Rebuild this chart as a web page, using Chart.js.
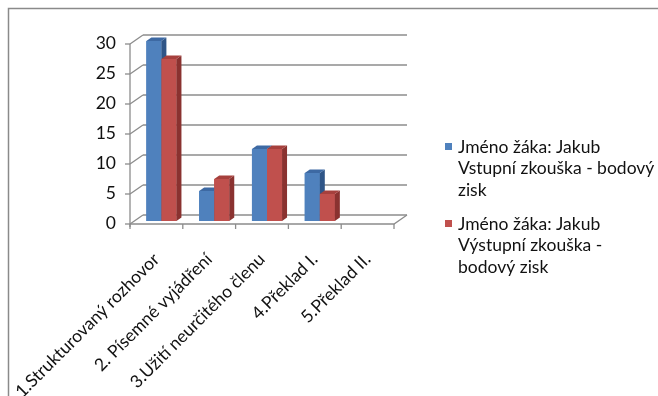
<!DOCTYPE html>
<html>
<head>
<meta charset="utf-8">
<script src="https://cdn.jsdelivr.net/npm/chart.js@4/dist/chart.umd.min.js"></script>
<style>
    html, body { margin: 0; padding: 0; background: #fff; }
    #wrap { width: 658px; height: 396px; position: relative; }
</style>
</head>
<body>
<div id="wrap"><canvas id="chart"></canvas></div>
<script>
// data
const categories = ["1.Strukturovaný rozhovor", "2. Písemné vyjádření", "3.Užití neurčitého členu", "4.Překlad I.", "5.Překlad II."];
const entryScores = [30, 5, 12, 8, 0];
const exitScores = [27, 7, 12, 4.5, 0];
const seriesLabels = [
    ["Jméno žáka: Jakub", "Vstupní zkouška - bodový", "zisk"],
    ["Jméno žáka: Jakub", "Výstupní zkouška -", "bodový zisk"]
];
const yTicks = [0, 5, 10, 15, 20, 25, 30];

const FONT = "Lato";
const FONT_SIZE = 17.5;
const frontColors = ["#4f81bd", "#c0504d"];
const sideColors = ["#2f5587", "#8a3230"];
const topColors = ["#3d69a3", "#a6403d"];
const gridColor = "#8c8c8c";

// offsets of the front plane / back wall from the plane the bars stand in
const FRONT = [-5, 3];
const BACK = [8, -6];
const BAR_DEPTH = [5, -3.5];

function line(ctx, x1, y1, x2, y2) {
    ctx.beginPath();
    ctx.moveTo(x1, y1);
    ctx.lineTo(x2, y2);
    ctx.stroke();
}

const frame3d = {
    id: "frame3d",
    beforeDraw(chart) {
        const ctx = chart.ctx;
        ctx.save();
        ctx.strokeStyle = "#8a8a8a";
        ctx.lineWidth = 1.5;
        ctx.beginPath();
        ctx.moveTo(8.5, 396);
        ctx.lineTo(8.5, 8.5);
        ctx.lineTo(658, 8.5);
        ctx.stroke();
        ctx.restore();
    },
    beforeDatasetsDraw(chart) {
        const ctx = chart.ctx;
        const a = chart.chartArea;
        const y = chart.scales.y;
        const y0 = y.getPixelForValue(0);
        const yMax = y.getPixelForValue(yTicks[yTicks.length - 1]);

        ctx.save();
        ctx.strokeStyle = gridColor;
        ctx.lineWidth = 1.3;

        yTicks.forEach(v => {
            const py = y.getPixelForValue(v);
            line(ctx, a.left + BACK[0], py + BACK[1], a.right + BACK[0], py + BACK[1]);
            line(ctx, a.left + FRONT[0], py + FRONT[1], a.left + BACK[0], py + BACK[1]);
            line(ctx, a.left + FRONT[0] - 5, py + FRONT[1], a.left + FRONT[0], py + FRONT[1]);
        });

        // front left axis
        line(ctx, a.left + FRONT[0], yMax + FRONT[1], a.left + FRONT[0], y0 + FRONT[1] + 3);

        // floor
        ctx.beginPath();
        ctx.moveTo(a.left + FRONT[0], y0 + FRONT[1]);
        ctx.lineTo(a.right + FRONT[0], y0 + FRONT[1]);
        ctx.lineTo(a.right + BACK[0], y0 + BACK[1]);
        ctx.stroke();

        // category ticks
        const step = (a.right - a.left) / categories.length;
        for (let i = 0; i <= categories.length; i++) {
            const px = a.left + i * step + FRONT[0];
            line(ctx, px, y0 + FRONT[1], px, y0 + FRONT[1] + 5);
        }
        ctx.restore();
    },
    afterDatasetsDraw(chart) {
        const ctx = chart.ctx;
        ctx.save();
        chart.data.datasets.forEach((ds, i) => {
            const meta = chart.getDatasetMeta(i);
            meta.data.forEach(bar => {
                if (bar.base - bar.y < 0.5) return;
                bar.draw(ctx);
                const left = bar.x - bar.width / 2;
                const right = bar.x + bar.width / 2;

                ctx.fillStyle = sideColors[i];
                ctx.beginPath();
                ctx.moveTo(right, bar.y);
                ctx.lineTo(right + BAR_DEPTH[0], bar.y + BAR_DEPTH[1]);
                ctx.lineTo(right + BAR_DEPTH[0], bar.base + BAR_DEPTH[1]);
                ctx.lineTo(right, bar.base);
                ctx.closePath();
                ctx.fill();

                ctx.fillStyle = topColors[i];
                ctx.beginPath();
                ctx.moveTo(left, bar.y);
                ctx.lineTo(left + BAR_DEPTH[0], bar.y + BAR_DEPTH[1]);
                ctx.lineTo(right + BAR_DEPTH[0], bar.y + BAR_DEPTH[1]);
                ctx.lineTo(right, bar.y);
                ctx.closePath();
                ctx.fill();
            });
        });
        ctx.restore();
    },
    afterDraw(chart) {
        const ctx = chart.ctx;
        ctx.save();
        ctx.font = FONT_SIZE + "px " + FONT;
        ctx.textBaseline = "middle";
        let yy = 147;
        seriesLabels.forEach((lines, i) => {
            ctx.fillStyle = frontColors[i];
            ctx.fillRect(445, yy - 4, 7, 7);
            ctx.fillStyle = "#111";
            lines.forEach((t, j) => {
                ctx.fillText(t, 458, yy + j * 21.5);
            });
            yy += 77;
        });
        ctx.restore();
    }
};

new Chart(document.getElementById("chart"), {
    type: "bar",
    data: {
        labels: categories,
        datasets: [
            {
                label: seriesLabels[0].join(" "),
                data: entryScores,
                backgroundColor: frontColors[0]
            },
            {
                label: seriesLabels[1].join(" "),
                data: exitScores,
                backgroundColor: frontColors[1]
            }
        ]
    },
    options: {
        responsive: true,
        maintainAspectRatio: false,
        animation: false,
        layout: { padding: { top: 41, right: 259, left: 0, bottom: 0 } },
        categoryPercentage: 0.57,
        barPercentage: 1,
        plugins: {
            legend: { display: false },
            tooltip: { enabled: false }
        },
        scales: {
            x: {
                grid: { display: false, drawTicks: false },
                border: { display: false },
                ticks: {
                    autoSkip: false,
                    minRotation: 45,
                    maxRotation: 45,
                    padding: 28,
                    labelOffset: -5,
                    color: "#111",
                    font: { family: FONT, size: FONT_SIZE }
                },
                afterFit(scale) {
                    scale.height = 175;
                    scale.paddingLeft = 0;
                    scale.paddingRight = 0;
                }
            },
            y: {
                min: 0,
                max: 30,
                grid: { display: false, drawTicks: false },
                border: { display: false },
                ticks: {
                    stepSize: 5,
                    padding: 19,
                    labelOffset: 2,
                    color: "#111",
                    font: { family: FONT, size: FONT_SIZE }
                },
                afterFit(scale) { scale.width = 135; }
            }
        }
    },
    plugins: [frame3d]
});
</script>
</body>
</html>
